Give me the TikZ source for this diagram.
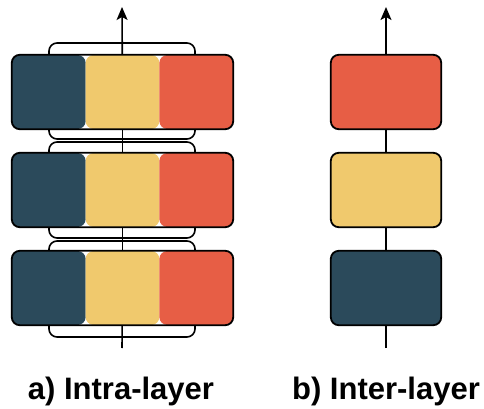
\documentclass[tikz,border=0pt]{standalone}
\usepackage{fontspec}
\setmainfont{Liberation Sans}
\usetikzlibrary{arrows.meta,calc}
\definecolor{slate}{HTML}{2B4A5B}
\definecolor{sand}{HTML}{F0C96D}
\definecolor{coral}{HTML}{E75E45}
\begin{document}
\begin{tikzpicture}[x=1pt,y=-1pt,
	box/.style={rounded corners=8pt,minimum height=74pt,inner sep=0pt},
	wide/.style={box,minimum width=221pt,path picture={
		\fill[slate] (path picture bounding box.south west) rectangle ($(path picture bounding box.north west)!0.3333!(path picture bounding box.north east)$);
		\fill[sand] ($(path picture bounding box.south west)!0.3333!(path picture bounding box.south east)$) rectangle ($(path picture bounding box.north west)!0.6667!(path picture bounding box.north east)$);
		\fill[coral] ($(path picture bounding box.south west)!0.6667!(path picture bounding box.south east)$) rectangle (path picture bounding box.north east);}},
	narrow/.style={box,minimum width=110pt},
	rim/.style={draw=black,line width=1.8pt,rounded corners=8pt},
	brace/.style={draw=black,line width=1.6pt,rounded corners=8pt,minimum width=146pt,minimum height=96pt,inner sep=0pt},
	flow/.style={line width=1.6pt},
	tip/.style={-{Stealth[length=13pt,width=11pt,inset=3pt]}},
	caption/.style={font=\bfseries\fontsize{31}{36}\selectfont,anchor=base,inner sep=0pt}]
	\useasboundingbox (0,0) rectangle (484,409);
	% a) intra-layer
	\node(b1)[brace] at (122,91) {};
	\node(b2)[brace] at (122,190) {};
	\node(b3)[brace] at (122,289) {};
	\coordinate(ain) at (122,348);
	\coordinate(aout) at (122,7);
	\node(l1)[wide] at (122.5,92) {};
	\node(l2)[wide] at (122.5,190) {};
	\node(l3)[wide] at (122.5,288) {};
	\draw[flow] (ain) -- (l3);
	\draw[flow] (l3) -- (l2);
	\draw[flow] (l2) -- (l1);
	\draw[flow,tip] (l1) -- (aout);
	% b) inter-layer
	\coordinate(bin) at (386,348);
	\coordinate(bout) at (386,7);
	\node(r1)[narrow,fill=coral] at (386,92) {};
	\node(r2)[narrow,fill=sand] at (386,190) {};
	\node(r3)[narrow,fill=slate] at (386,288) {};
	\draw[flow] (bin) -- (r3);
	\draw[flow] (r3) -- (r2);
	\draw[flow] (r2) -- (r1);
	\draw[flow,tip] (r1) -- (bout);
	% outlines
	\foreach \n in {l1,l2,l3,r1,r2,r3}
		\draw[rim] (\n.south west) rectangle (\n.north east);
	% captions
	\node(ca)[caption] at (121,399) {a) Intra-layer};
	\node(cb)[caption] at (386,399) {b) Inter-layer};
\end{tikzpicture}
\end{document}
